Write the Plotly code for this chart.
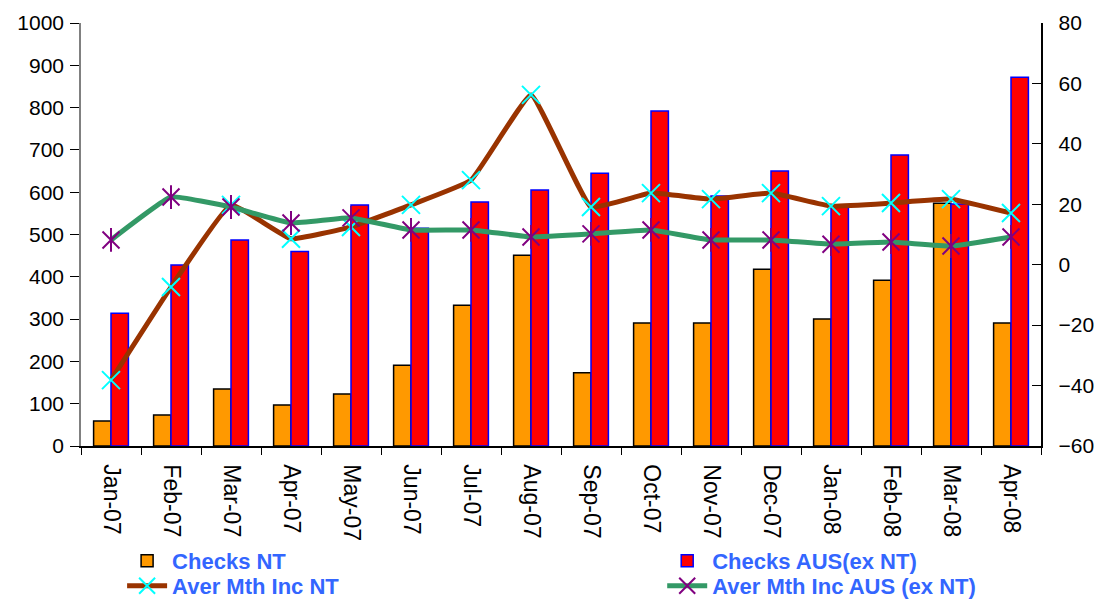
import plotly.graph_objects as go

months = ["Jan-07", "Feb-07", "Mar-07", "Apr-07", "May-07", "Jun-07", "Jul-07", "Aug-07",
          "Sep-07", "Oct-07", "Nov-07", "Dec-07", "Jan-08", "Feb-08", "Mar-08", "Apr-08"]
checks_nt = [59, 73, 135, 97, 123, 191, 333, 451, 173, 291, 291, 418, 300, 392, 574, 291]
checks_aus = [314, 428, 487, 460, 570, 515, 577, 605, 645, 792, 591, 650, 565, 688, 572, 872]
inc_nt = [-38.2, -7.4, 19.8, 8.6, 12.5, 19.8, 28.0, 56.2, 19.1, 23.7, 21.7, 23.7, 19.4, 20.4, 21.7, 17.1]
inc_aus = [8.2, 22.4, 19.1, 13.8, 15.5, 11.5, 11.5, 9.2, 10.2, 11.5, 8.2, 8.2, 6.8, 7.5, 6.2, 9.2]

LEG_BLUE = "#3366FF"
FONT = "Liberation Sans, Arial, sans-serif"

fig = go.Figure()
fig.add_trace(go.Bar(x=months, y=checks_nt, name="Checks NT", legend="legend",
                     marker=dict(color="#FF9900", line=dict(color="black", width=1.5))))
fig.add_trace(go.Bar(x=months, y=checks_aus, name="Checks AUS(ex NT)", legend="legend2",
                     marker=dict(color="#FF0000", line=dict(color="#0000FF", width=1.5))))
fig.add_trace(go.Scatter(x=months, y=inc_nt, name="Aver Mth Inc NT", yaxis="y2",
                         legend="legend3", mode="lines+markers",
                         line=dict(color="#993300", width=5, shape="spline", smoothing=0.3),
                         marker=dict(symbol="x-thin", size=18, color="#00FFFF",
                                     line=dict(color="#00FFFF", width=2))))
fig.add_trace(go.Scatter(x=months, y=inc_aus, name="Aver Mth Inc AUS (ex NT)", yaxis="y2",
                         legend="legend4", mode="lines+markers", legendgroup="aus",
                         line=dict(color="#339966", width=5, shape="spline", smoothing=0.3),
                         marker=dict(symbol="x-thin", size=17, color="#800080",
                                     line=dict(color="#800080", width=2))))
fig.add_trace(go.Scatter(x=months, y=inc_aus, yaxis="y2", mode="markers", legend="legend4",
                         legendgroup="aus", showlegend=False, hoverinfo="skip",
                         marker=dict(symbol="line-ns", size=17, color="#800080",
                                     line=dict(color="#800080", width=2))))

leg_font = dict(family=FONT, size=22, color=LEG_BLUE, weight="bold")

def leg(x, y):
    return dict(x=x, y=y, xref="container", yref="container", xanchor="left", yanchor="middle",
                font=leg_font, bgcolor="rgba(0,0,0,0)", itemwidth=40)

fig.update_layout(
    width=1100, height=599,
    margin=dict(l=81, r=59, t=23, b=153, autoexpand=False),
    paper_bgcolor="white", plot_bgcolor="white",
    barmode="group", bargap=0.42, bargroupgap=0,
    font=dict(family=FONT, size=21, color="black"),
    showlegend=True,
    legend=leg(0.111, 1 - 561 / 599),
    legend2=leg(0.602, 1 - 561 / 599),
    legend3=leg(0.111, 1 - 586 / 599),
    legend4=leg(0.602, 1 - 586 / 599),
    xaxis=dict(range=[-0.5, len(months) - 0.5], showline=True, linecolor="black",
               linewidth=1.5, ticks="outside", ticklabelstandoff=12,
               tickson="boundaries", ticklen=7, tickcolor="black", tickangle=90,
               tickfont=dict(size=23), showgrid=False, zeroline=False),
    yaxis=dict(range=[0, 1000], dtick=100, showline=True, linecolor="#808080", linewidth=1.5,
               ticks="outside", ticklen=9, tickcolor="black", showgrid=False, zeroline=False,
               ticklabelstandoff=2, tickfont=dict(size=21)),
    yaxis2=dict(range=[-60, 80], dtick=20, overlaying="y", side="right", showline=True,
                linecolor="black", linewidth=1.5, ticks="inside", ticklen=9, tickcolor="black",
                tickprefix="\u00a0\u00a0",
                showgrid=False, zeroline=False, tickfont=dict(size=21)),
)

fig.write_html("out.html", config={"displayModeBar": False},
               post_script="document.body.style.margin='0';document.body.style.overflow='hidden';")
